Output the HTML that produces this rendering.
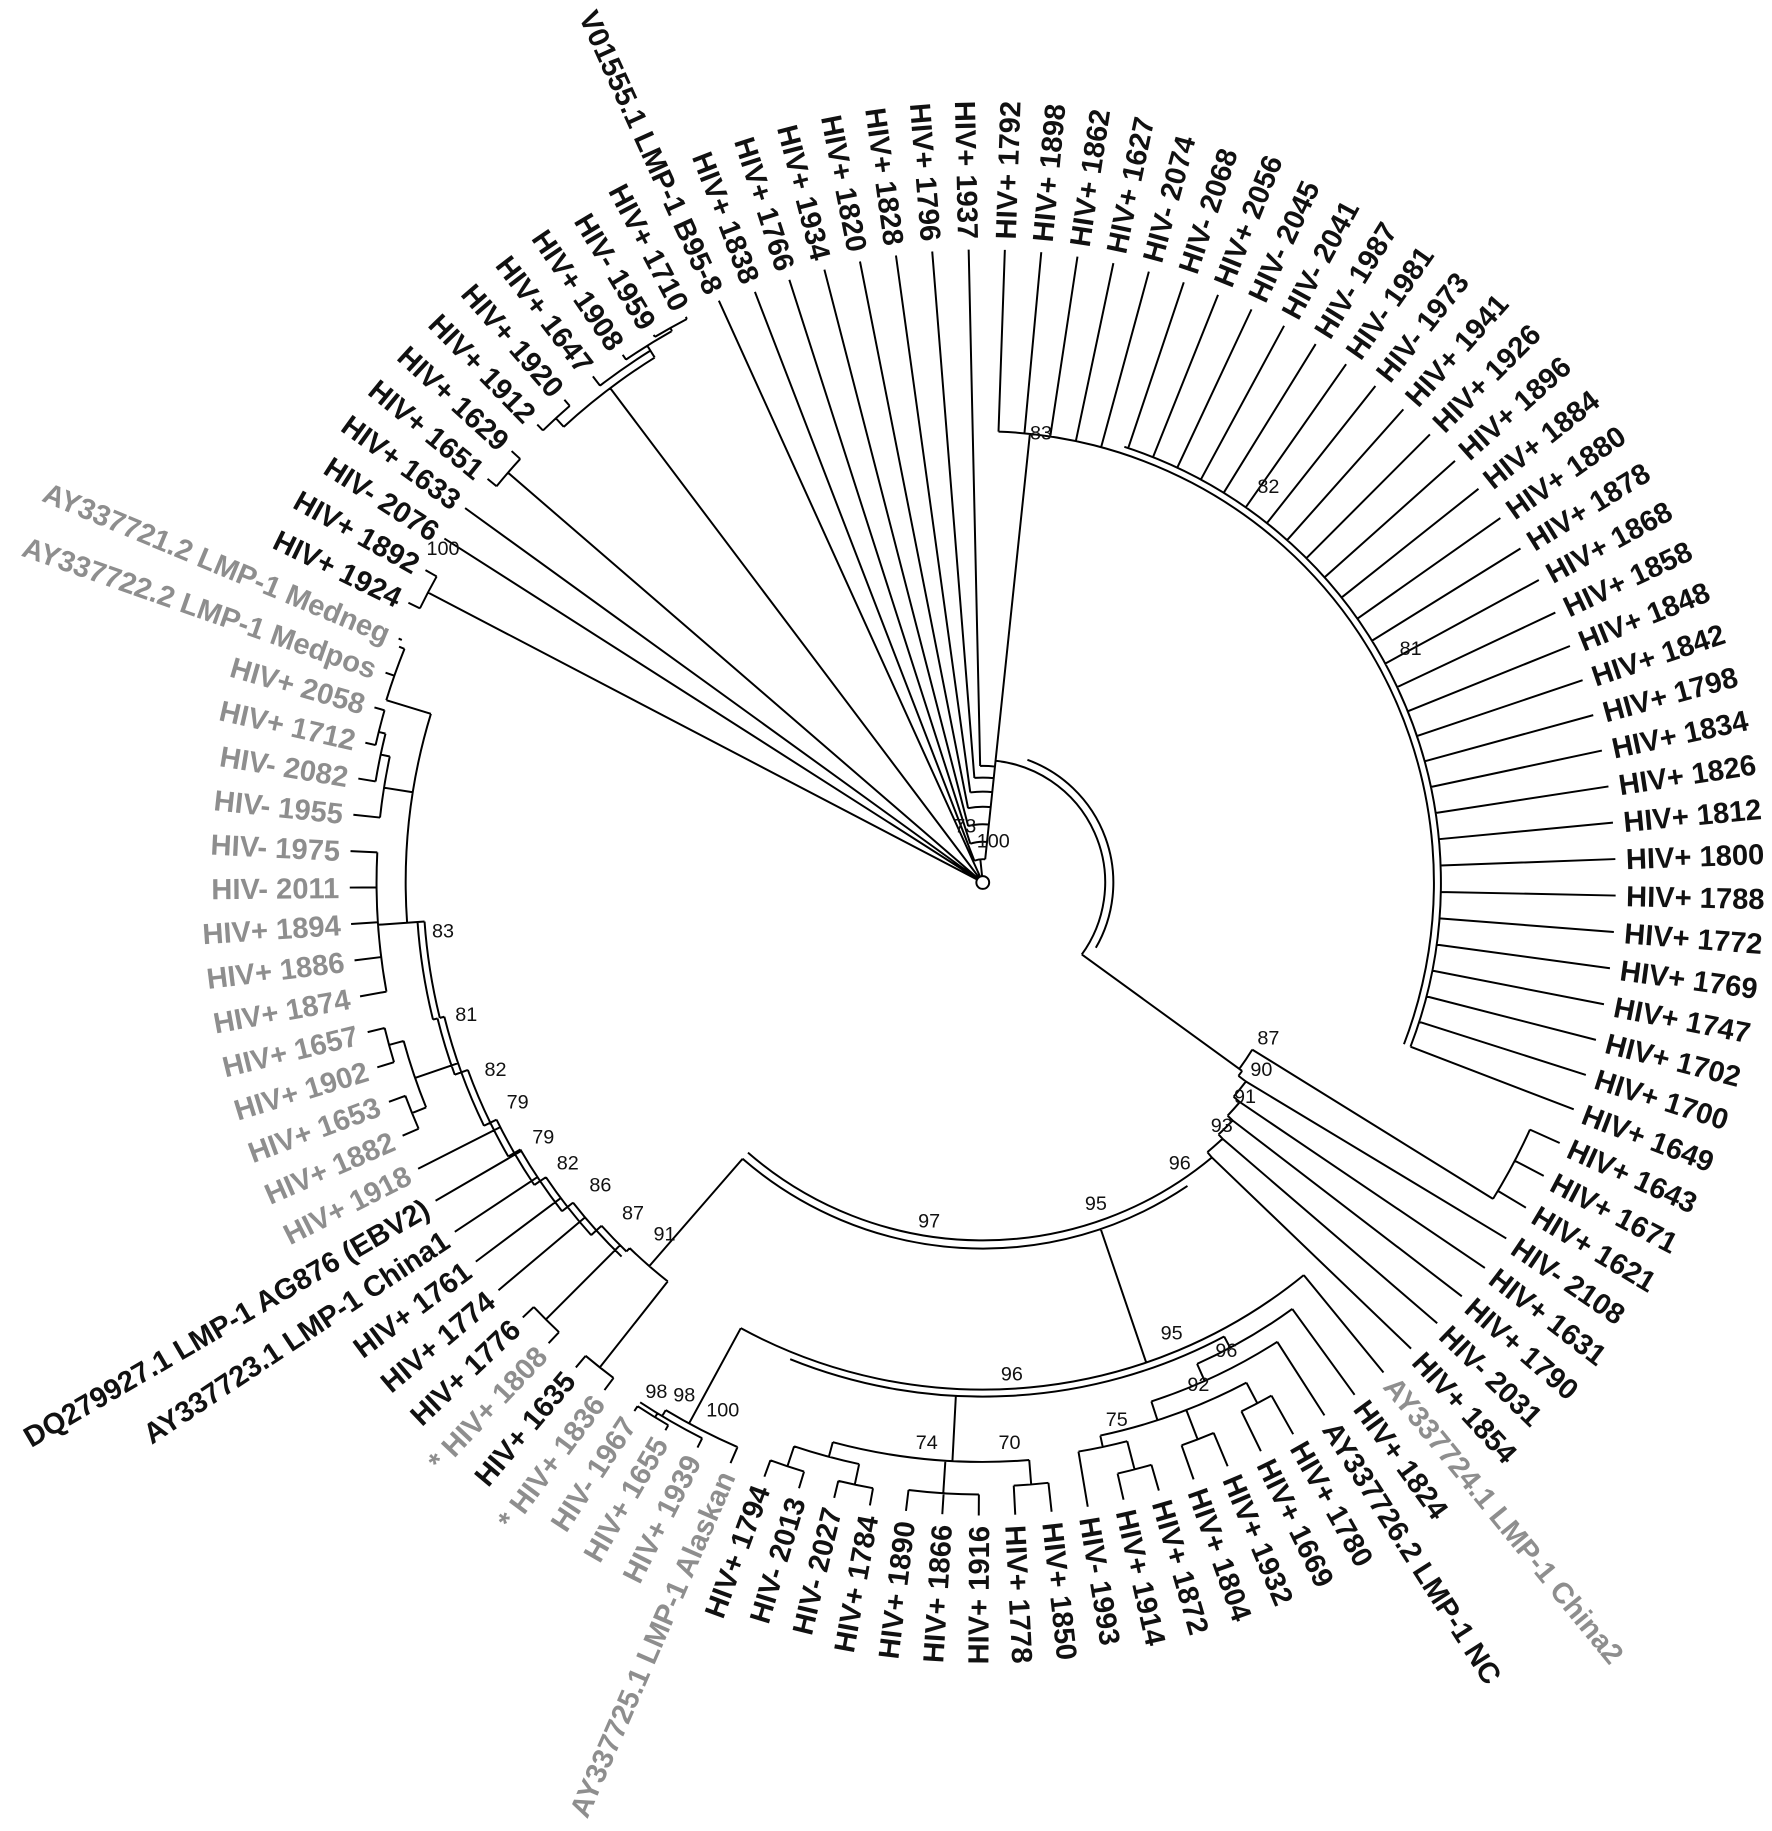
<!DOCTYPE html>
<html>
<head>
<meta charset="utf-8">
<style>
html,body{margin:0;padding:0;background:#fff;}
svg{display:block;}
.k{fill:#111;}
.g{fill:#8e8e8e;}
.s{font-size:17px;fill:#111;text-anchor:middle;}
</style>
</head>
<body>
<svg id="s" width="1772" height="1831" viewBox="0 0 1520 1570.6" xmlns="http://www.w3.org/2000/svg">
<rect width="1520" height="1571" fill="#fff"/>
<path id="br" d="" fill="none" stroke="#000" stroke-width="1.7"/>
<circle cx="843" cy="757" r="5.5" fill="#fff" stroke="#000" stroke-width="1.7"/>
<g transform="translate(843 757)" font-family="Liberation Sans, Arial, sans-serif" font-size="25" font-weight="bold">
<g class="k">
<text transform="rotate(-88) translate(552 0)" dy="0.36em">HIV+ 1792</text>
<text transform="rotate(-84.70) translate(552 0)" dy="0.36em">HIV+ 1898</text>
<text transform="rotate(-81.39) translate(552 0)" dy="0.36em">HIV+ 1862</text>
<text transform="rotate(-78.09) translate(552 0)" dy="0.36em">HIV+ 1627</text>
<text transform="rotate(-74.79) translate(552 0)" dy="0.36em">HIV- 2074</text>
<text transform="rotate(-71.49) translate(552 0)" dy="0.36em">HIV- 2068</text>
<text transform="rotate(-68.18) translate(552 0)" dy="0.36em">HIV+ 2056</text>
<text transform="rotate(-64.88) translate(552 0)" dy="0.36em">HIV- 2045</text>
<text transform="rotate(-61.58) translate(552 0)" dy="0.36em">HIV- 2041</text>
<text transform="rotate(-58.27) translate(552 0)" dy="0.36em">HIV- 1987</text>
<text transform="rotate(-54.97) translate(552 0)" dy="0.36em">HIV- 1981</text>
<text transform="rotate(-51.67) translate(552 0)" dy="0.36em">HIV- 1973</text>
<text transform="rotate(-48.36) translate(552 0)" dy="0.36em">HIV+ 1941</text>
<text transform="rotate(-45.06) translate(552 0)" dy="0.36em">HIV+ 1926</text>
<text transform="rotate(-41.76) translate(552 0)" dy="0.36em">HIV+ 1896</text>
<text transform="rotate(-38.46) translate(552 0)" dy="0.36em">HIV+ 1884</text>
<text transform="rotate(-35.15) translate(552 0)" dy="0.36em">HIV+ 1880</text>
<text transform="rotate(-31.85) translate(552 0)" dy="0.36em">HIV+ 1878</text>
<text transform="rotate(-28.55) translate(552 0)" dy="0.36em">HIV+ 1868</text>
<text transform="rotate(-25.24) translate(552 0)" dy="0.36em">HIV+ 1858</text>
<text transform="rotate(-21.94) translate(552 0)" dy="0.36em">HIV+ 1848</text>
<text transform="rotate(-18.64) translate(552 0)" dy="0.36em">HIV+ 1842</text>
<text transform="rotate(-15.33) translate(552 0)" dy="0.36em">HIV+ 1798</text>
<text transform="rotate(-12.03) translate(552 0)" dy="0.36em">HIV+ 1834</text>
<text transform="rotate(-8.73) translate(552 0)" dy="0.36em">HIV+ 1826</text>
<text transform="rotate(-5.43) translate(552 0)" dy="0.36em">HIV+ 1812</text>
<text transform="rotate(-2.12) translate(552 0)" dy="0.36em">HIV+ 1800</text>
<text transform="rotate(1.18) translate(552 0)" dy="0.36em">HIV+ 1788</text>
<text transform="rotate(4.48) translate(552 0)" dy="0.36em">HIV+ 1772</text>
<text transform="rotate(7.79) translate(552 0)" dy="0.36em">HIV+ 1769</text>
<text transform="rotate(11.09) translate(552 0)" dy="0.36em">HIV+ 1747</text>
<text transform="rotate(14.39) translate(552 0)" dy="0.36em">HIV+ 1702</text>
<text transform="rotate(17.70) translate(552 0)" dy="0.36em">HIV+ 1700</text>
<text transform="rotate(21.00) translate(552 0)" dy="0.36em">HIV+ 1649</text>
<text transform="rotate(24.30) translate(552 0)" dy="0.36em">HIV+ 1643</text>
<text transform="rotate(27.61) translate(552 0)" dy="0.36em">HIV+ 1671</text>
<text transform="rotate(30.91) translate(552 0)" dy="0.36em">HIV+ 1621</text>
<text transform="rotate(34.21) translate(552 0)" dy="0.36em">HIV- 2108</text>
<text transform="rotate(37.51) translate(552 0)" dy="0.36em">HIV+ 1631</text>
<text transform="rotate(40.82) translate(552 0)" dy="0.36em">HIV+ 1790</text>
<text transform="rotate(44.12) translate(552 0)" dy="0.36em">HIV- 2031</text>
<text transform="rotate(47.42) translate(552 0)" dy="0.36em">HIV+ 1854</text>
<text class="g" transform="rotate(50.73) translate(552 0)" dy="0.36em">AY337724.1 LMP-1 China2</text>
<text transform="rotate(54.03) translate(552 0)" dy="0.36em">HIV+ 1824</text>
<text transform="rotate(57.33) translate(552 0)" dy="0.36em">AY337726.2 LMP-1 NC</text>
<text transform="rotate(60.64) translate(552 0)" dy="0.36em">HIV+ 1780</text>
<text transform="rotate(63.94) translate(552 0)" dy="0.36em">HIV+ 1669</text>
<text transform="rotate(67.24) translate(552 0)" dy="0.36em">HIV+ 1932</text>
<text transform="rotate(70.54) translate(552 0)" dy="0.36em">HIV+ 1804</text>
<text transform="rotate(73.85) translate(552 0)" dy="0.36em">HIV+ 1872</text>
<text transform="rotate(77.15) translate(552 0)" dy="0.36em">HIV+ 1914</text>
<text transform="rotate(80.45) translate(552 0)" dy="0.36em">HIV- 1993</text>
<text transform="rotate(83.76) translate(552 0)" dy="0.36em">HIV+ 1850</text>
<text transform="rotate(87.06) translate(552 0)" dy="0.36em">HIV+ 1778</text>
</g>
<g class="k" text-anchor="end">
<text transform="rotate(-89.64) translate(-552 0)" dy="0.36em">HIV+ 1916</text>
<text transform="rotate(-86.33) translate(-552 0)" dy="0.36em">HIV+ 1866</text>
<text transform="rotate(-83.03) translate(-552 0)" dy="0.36em">HIV+ 1890</text>
<text transform="rotate(-79.73) translate(-552 0)" dy="0.36em">HIV+ 1784</text>
<text transform="rotate(-76.43) translate(-552 0)" dy="0.36em">HIV- 2027</text>
<text transform="rotate(-73.12) translate(-552 0)" dy="0.36em">HIV- 2013</text>
<text transform="rotate(-69.82) translate(-552 0)" dy="0.36em">HIV+ 1794</text>
<text class="g" transform="rotate(-66.52) translate(-552 0)" dy="0.36em">AY337725.1 LMP-1 Alaskan</text>
<text class="g" transform="rotate(-63.21) translate(-552 0)" dy="0.36em">HIV+ 1939</text>
<text class="g" transform="rotate(-59.91) translate(-552 0)" dy="0.36em">HIV+ 1655</text>
<text class="g" transform="rotate(-56.61) translate(-552 0)" dy="0.36em">HIV- 1967</text>
<text class="g" transform="rotate(-53.30) translate(-552 0)" dy="0.36em">* HIV+ 1836</text>
<text transform="rotate(-50.00) translate(-552 0)" dy="0.36em">HIV+ 1635</text>
<text class="g" transform="rotate(-46.70) translate(-552 0)" dy="0.36em">* HIV+ 1808</text>
<text transform="rotate(-43.40) translate(-552 0)" dy="0.36em">HIV+ 1776</text>
<text transform="rotate(-40.09) translate(-552 0)" dy="0.36em">HIV+ 1774</text>
<text transform="rotate(-36.79) translate(-552 0)" dy="0.36em">HIV+ 1761</text>
<text transform="rotate(-33.49) translate(-552 0)" dy="0.36em">AY337723.1 LMP-1 China1</text>
<text transform="rotate(-30.18) translate(-552 0)" dy="0.36em">DQ279927.1 LMP-1 AG876 (EBV2)</text>
<text class="g" transform="rotate(-26.88) translate(-552 0)" dy="0.36em">HIV+ 1918</text>
<text class="g" transform="rotate(-23.58) translate(-552 0)" dy="0.36em">HIV+ 1882</text>
<text class="g" transform="rotate(-20.27) translate(-552 0)" dy="0.36em">HIV+ 1653</text>
<text class="g" transform="rotate(-16.97) translate(-552 0)" dy="0.36em">HIV+ 1902</text>
<text class="g" transform="rotate(-13.67) translate(-552 0)" dy="0.36em">HIV+ 1657</text>
<text class="g" transform="rotate(-10.37) translate(-552 0)" dy="0.36em">HIV+ 1874</text>
<text class="g" transform="rotate(-7.06) translate(-552 0)" dy="0.36em">HIV+ 1886</text>
<text class="g" transform="rotate(-3.76) translate(-552 0)" dy="0.36em">HIV+ 1894</text>
<text class="g" transform="rotate(-0.46) translate(-552 0)" dy="0.36em">HIV- 2011</text>
<text class="g" transform="rotate(2.85) translate(-552 0)" dy="0.36em">HIV- 1975</text>
<text class="g" transform="rotate(6.15) translate(-552 0)" dy="0.36em">HIV- 1955</text>
<text class="g" transform="rotate(9.45) translate(-552 0)" dy="0.36em">HIV- 2082</text>
<text class="g" transform="rotate(12.76) translate(-552 0)" dy="0.36em">HIV+ 1712</text>
<text class="g" transform="rotate(16.06) translate(-552 0)" dy="0.36em">HIV+ 2058</text>
<text class="g" transform="rotate(19.36) translate(-552 0)" dy="0.36em">AY337722.2 LMP-1 Medpos</text>
<text class="g" transform="rotate(22.66) translate(-552 0)" dy="0.36em">AY337721.2 LMP-1 Medneg</text>
<text transform="rotate(25.97) translate(-556 0)" dy="0.36em">HIV+ 1924</text>
<text transform="rotate(29.27) translate(-556 0)" dy="0.36em">HIV+ 1892</text>
<text transform="rotate(32.57) translate(-556 0)" dy="0.36em">HIV- 2076</text>
<text transform="rotate(35.88) translate(-556 0)" dy="0.36em">HIV+ 1633</text>
<text transform="rotate(39.18) translate(-556 0)" dy="0.36em">HIV+ 1651</text>
<text transform="rotate(42.48) translate(-556 0)" dy="0.36em">HIV+ 1629</text>
<text transform="rotate(45.79) translate(-556 0)" dy="0.36em">HIV+ 1912</text>
<text transform="rotate(49.09) translate(-556 0)" dy="0.36em">HIV+ 1920</text>
<text transform="rotate(52.39) translate(-556 0)" dy="0.36em">HIV+ 1647</text>
<text transform="rotate(55.69) translate(-556 0)" dy="0.36em">HIV+ 1908</text>
<text transform="rotate(59.00) translate(-556 0)" dy="0.36em">HIV- 1959</text>
<text transform="rotate(62.30) translate(-556 0)" dy="0.36em">HIV+ 1710</text>
<text transform="rotate(65.60) translate(-556 0)" dy="0.36em">V01555.1 LMP-1 B95-8</text>
<text transform="rotate(68.91) translate(-552 0)" dy="0.36em">HIV+ 1838</text>
<text transform="rotate(72.21) translate(-552 0)" dy="0.36em">HIV+ 1766</text>
<text transform="rotate(75.51) translate(-552 0)" dy="0.36em">HIV+ 1934</text>
<text transform="rotate(78.82) translate(-552 0)" dy="0.36em">HIV+ 1820</text>
<text transform="rotate(82.12) translate(-552 0)" dy="0.36em">HIV+ 1828</text>
<text transform="rotate(85.42) translate(-552 0)" dy="0.36em">HIV+ 1796</text>
<text transform="rotate(88.73) translate(-552 0)" dy="0.36em">HIV+ 1937</text>
</g>
</g>
<g font-family="Liberation Sans, Arial, sans-serif">
<text class="s" x="828" y="714">73</text>
<text class="s" x="852" y="727">100</text>
<text class="s" x="893" y="377">83</text>
<text class="s" x="1088" y="423">82</text>
<text class="s" x="1210" y="562">81</text>
<text class="s" x="1088" y="896">87</text>
<text class="s" x="1082" y="923">90</text>
<text class="s" x="1068" y="946">91</text>
<text class="s" x="1048" y="971">93</text>
<text class="s" x="1012" y="1003">96</text>
<text class="s" x="940" y="1038">95</text>
<text class="s" x="797" y="1053">97</text>
<text class="s" x="1005" y="1149">95</text>
<text class="s" x="1052" y="1164">96</text>
<text class="s" x="1028" y="1193">92</text>
<text class="s" x="868" y="1184">96</text>
<text class="s" x="958" y="1223">75</text>
<text class="s" x="795" y="1243">74</text>
<text class="s" x="866" y="1243">70</text>
<text class="s" x="563" y="1199">98</text>
<text class="s" x="587" y="1202">98</text>
<text class="s" x="620" y="1215">100</text>
<text class="s" x="380" y="804">83</text>
<text class="s" x="400" y="876">81</text>
<text class="s" x="425" y="923">82</text>
<text class="s" x="444" y="951">79</text>
<text class="s" x="466" y="981">79</text>
<text class="s" x="487" y="1003">82</text>
<text class="s" x="515" y="1022">86</text>
<text class="s" x="543" y="1046">87</text>
<text class="s" x="570" y="1064">91</text>
<text class="s" x="380" y="476">100</text>
</g>
</svg>
<script>
(function(){
var C=[843,757];
function A(i){return -88+3.303*i;}
function T(i){return (i>=89&&i<=101)?548:543;}
function P(a,r){var t=a*Math.PI/180;return (C[0]+r*Math.cos(t)).toFixed(2)+","+(C[1]+r*Math.sin(t)).toFixed(2);}
var d="";
function arc(r,a1,a2){if(a1>a2){var x=a1;a1=a2;a2=x;}d+="M"+P(a1,r)+"A"+r+" "+r+" 0 "+((a2-a1)>180?1:0)+" 1 "+P(a2,r);}
function seg(a1,r1,a2,r2){d+="M"+P(a1,r1)+"L"+P(a2,r2);}
function rad(a,r1,r2){seg(a,r1,a,r2);}
function leaf(i,rb,ab){seg(ab===undefined?A(i):ab,rb,A(i),T(i));}
function spiral(p){for(var k=0;k<p.length-1;k++){arc(p[k][1],p[k][0],p[k+1][0]);rad(p[k+1][0],p[k][1],p[k+1][1]);}}
function rS(p,a){if(a<=p[0][0])return p[0][1];for(var k=0;k<p.length-1;k++){if(a<=p[k+1][0]){return p[k][1];}}return p[p.length-1][1];}
var i;
arc(387,-88,21);arc(393,-72,21);rad(-84,105,387);
for(i=0;i<=33;i++)leaf(i,i<5?387:393);
arc(105,-84,36);arc(112,-70,30);rad(36,105,275);
arc(272,31.8,36);rad(31.8,272,515);arc(515,24.3,31.8);
for(i=34;i<=36;i++)leaf(i,515);
var br=[[36,275],[37.1,283],[40.5,290],[43.6,296],[46.9,301],[50.2,307]];
spiral(br);
for(i=37;i<=41;i++)leaf(i,br[i-36][1],br[i-36][0]);
arc(307,50.2,131);arc(314,56,131);
rad(131,314,436);
rad(71.2,314,435);arc(435,50.73,118.5);arc(441,62,112);
leaf(42,435);
arc(452,54.03,66);rad(62,441,452);leaf(43,452);
arc(468,57.33,72);rad(66,452,468);leaf(44,468);
arc(485,62.2,78);rad(72,468,485);
arc(505,60.64,63.94);rad(62.2,485,505);leaf(45,505);leaf(46,505);
arc(512,67.24,70.54);rad(68.9,485,512);leaf(47,512);leaf(48,512);
arc(495,75.5,80.45);rad(78,485,495);leaf(51,495);
arc(520,73.85,77.15);rad(75.5,495,520);leaf(49,520);leaf(50,520);
rad(93,441,497);arc(497,85.4,105);
arc(518,83.76,87.06);rad(85.4,497,518);leaf(52,518);leaf(53,518);
arc(525,90.36,96.97);rad(93.7,497,525);leaf(54,525);leaf(55,525);leaf(56,525);
rad(105,497,510);arc(510,102,108.5);
arc(528,100.27,103.57);rad(102,510,528);leaf(57,528);leaf(58,528);
arc(528,106.88,110.18);rad(108.5,510,528);leaf(59,528);leaf(60,528);
rad(118.5,435,528);arc(528,113.48,121);leaf(61,528);
rad(121,528,534);arc(534,116.79,123.39);leaf(62,534);
rad(121.5,534,538);arc(538,120.09,123.39);leaf(63,538);leaf(64,538);
arc(436,128.3,131);rad(128.3,436,530);arc(530,126.7,130);leaf(65,530);leaf(66,530);
var lp=[[131,436],[134,440],[138,446],[142,452],[146,458],[150,464],[154,470],[160,476],[166,480],[176,486]];
spiral(lp);
var lp2=[];for(i=1;i<lp.length;i++)lp2.push([lp[i][0],lp[i][1]+6]);spiral(lp2);
rad(135,440,530);arc(530,133.3,136.6);leaf(67,530);leaf(68,530);
for(i=69;i<=73;i++)leaf(i,rS(lp,A(i)));
rad(161,476,515);arc(515,158,164.7);
arc(528,156.42,159.73);rad(158,515,528);leaf(74,528);leaf(75,528);
arc(528,163.03,166.33);rad(164.7,515,528);leaf(76,528);leaf(77,528);
rad(176,486,495);arc(495,176,197);
rad(176,495,520);arc(520,169.63,182.85);for(i=78;i<=82;i++)leaf(i,520);
rad(189,495,520);arc(520,186.15,192);leaf(83,520);
rad(192,520,528);arc(528,189.45,194);leaf(84,528);
rad(194,528,534);arc(534,192.76,196.06);leaf(85,534);leaf(86,534);
rad(197,495,535);arc(535,197,202);leaf(87,535);
rad(202,535,540);leaf(88,540);
rad(207.6,0,537);arc(537,205.97,209.27);leaf(89,537);leaf(90,537);
rad(A(91),0,548);rad(A(92),0,548);
rad(220.8,0,538);arc(538,219.18,222.48);leaf(93,538);leaf(94,538);
rad(233,0,531);arc(531,227.4,238);
arc(541,225.79,229.09);rad(227.4,531,541);leaf(95,541);leaf(96,541);
arc(538,232.39,238);rad(238,531,538);leaf(97,538);
rad(238,538,543);arc(543,235.69,240.6);leaf(98,543);
rad(240.6,543,546);arc(546,239,242.3);leaf(99,546);leaf(100,546);
rad(A(101),0,548);
var tr=[20,35,50,65,78,90,100];
rad(-96,0,20);
for(i=102;i<=108;i++){var r=tr[i-102];var a=A(i)-360;arc(r,a,-84);seg(a,r,a,543);}
rad(-84,20,105);
document.getElementById("br").setAttribute("d",d);
})();
</script>
</body>
</html>
